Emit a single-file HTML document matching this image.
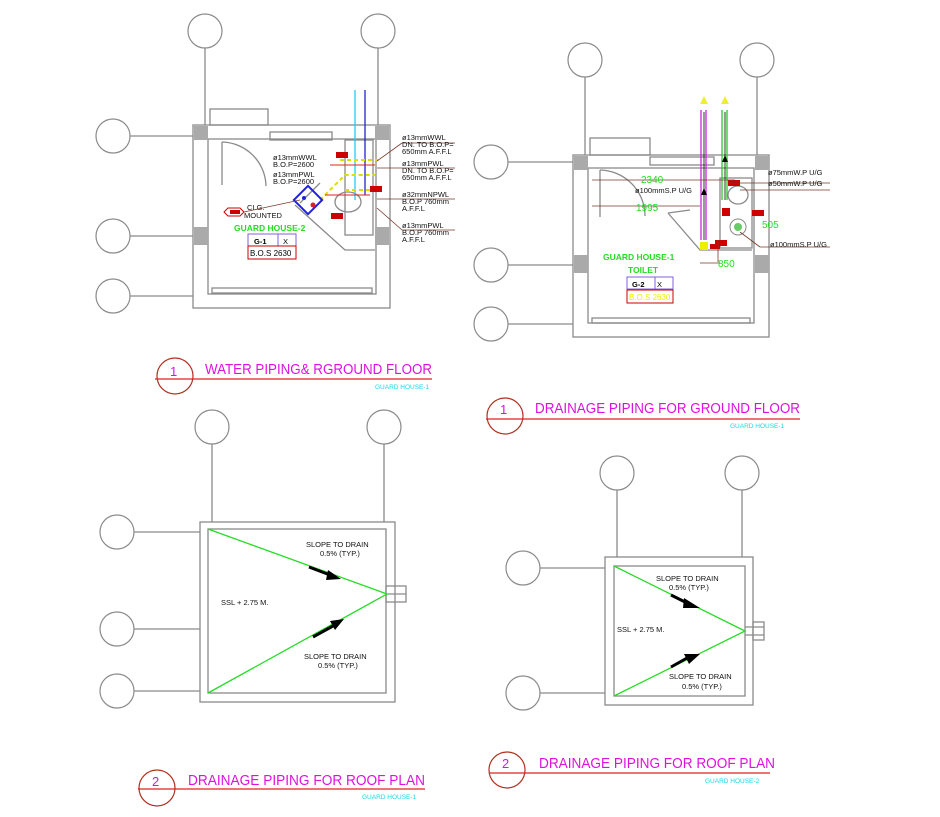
<!DOCTYPE html>
<html><head><meta charset="utf-8"><style>
html,body{margin:0;padding:0;background:#fff;}
svg{display:block;}
text{font-family:"Liberation Sans",sans-serif;}
.g{stroke:#8a8a8a;fill:none;stroke-width:1.3;}
.c{stroke:#8a8a8a;fill:none;stroke-width:1.2;}
.t{font-size:7.5px;fill:#111;}
.ttl{font-size:15px;fill:#e010e0;}
.sub{font-size:6.5px;fill:#18d8e8;}
.gr{stroke:#22dd22;stroke-width:1.3;fill:none;}
</style></head><body>
<svg width="940" height="817" viewBox="0 0 940 817" xmlns="http://www.w3.org/2000/svg">
<!-- ============ TOP LEFT ============ -->
<g>
<circle class="c" cx="205" cy="31" r="17"/><circle class="c" cx="378" cy="31" r="17"/>
<circle class="c" cx="113" cy="136" r="17"/><circle class="c" cx="113" cy="236" r="17"/><circle class="c" cx="113" cy="296" r="17"/>
<line class="g" x1="205" y1="48" x2="205" y2="125"/><line class="g" x1="378" y1="48" x2="378" y2="125"/>
<line class="g" x1="130" y1="136" x2="193" y2="136"/><line class="g" x1="130" y1="236" x2="193" y2="236"/><line class="g" x1="130" y1="296" x2="193" y2="296"/>
<rect class="g" x="193" y="125" width="197" height="183"/>
<rect class="g" x="208" y="139" width="168" height="155"/>
<rect class="g" x="212" y="288" width="160" height="5"/>
<rect x="194" y="126" width="14" height="14" fill="#aaa"/><rect x="375" y="126" width="14" height="14" fill="#aaa"/>
<rect x="194" y="227" width="14" height="18" fill="#aaa"/><rect x="375" y="227" width="14" height="18" fill="#aaa"/>
<rect class="g" x="210" y="109" width="58" height="16"/>
<path class="g" d="M222 142 L222 185 M222 142 A45 45 0 0 1 266 186"/>
<rect class="g" x="270" y="132" width="62" height="8"/>
<path class="g" d="M300 203 L320 183 M295 205 L345 250 L375 250"/>
<rect class="g" x="345" y="140" width="28" height="95"/>
<ellipse class="g" cx="348" cy="202" rx="13" ry="10"/>
<line x1="355" y1="90" x2="355" y2="200" stroke="#22ccee" stroke-width="1.3"/>
<line x1="365" y1="90" x2="365" y2="195" stroke="#2222cc" stroke-width="1.3"/>
<path d="M320 200 L345 175 L375 175 M340 160 L378 160 M345 190 L380 190" stroke="#dddd00" stroke-width="2" fill="none" stroke-dasharray="4 3"/>
<path d="M330 165 L375 165 M325 195 L370 195" stroke="#e02020" stroke-width="1" fill="none"/>
<rect x="298" y="190" width="20" height="20" fill="none" stroke="#2020e0" stroke-width="2" transform="rotate(45 308 200)"/>
<circle cx="304" cy="198" r="2" fill="#2020e0"/><circle cx="313" cy="205" r="2.5" fill="#e02020"/>
<rect x="336" y="152" width="12" height="6" fill="#c00"/><rect x="370" y="186" width="12" height="6" fill="#c00"/><rect x="331" y="213" width="12" height="6" fill="#c00"/>
<polygon points="228,208 240,208 244,212 240,216 228,216 224,212" fill="#fff" stroke="#c00"/>
<rect x="230" y="210" width="10" height="4" fill="#c00"/>
<text class="t" x="247" y="210">CLG.</text><text class="t" x="244" y="218">MOUNTED</text>
<line x1="244" y1="212" x2="300" y2="200" stroke="#7a3a2a" stroke-width="0.8"/>
<text class="t" x="273" y="160">ø13mmWWL</text><text class="t" x="273" y="167">B.O.P=2600</text>
<text class="t" x="273" y="177">ø13mmPWL</text><text class="t" x="273" y="184">B.O.P=2600</text>
<text x="234" y="231" font-size="8.5" font-weight="bold" fill="#22dd22">GUARD HOUSE-2</text>
<rect x="248" y="234" width="48" height="12" fill="none" stroke="#8060e0"/><line x1="278" y1="234" x2="278" y2="246" stroke="#8060e0"/>
<text x="254" y="244" font-size="7.5" font-weight="bold">G-1</text><text x="283" y="244" font-size="7.5">X</text>
<rect x="248" y="246" width="48" height="13" fill="none" stroke="#c00"/>
<text x="250" y="256" font-size="8">B.O.S 2630</text>
<g stroke="#7a3a2a" stroke-width="0.8">
<line x1="377" y1="161" x2="402" y2="143"/><line x1="402" y1="143" x2="455" y2="143"/>
<line x1="377" y1="168" x2="455" y2="168"/>
<line x1="377" y1="199" x2="455" y2="199"/>
<line x1="377" y1="208" x2="402" y2="230"/><line x1="402" y1="230" x2="455" y2="230"/>
</g>
<text class="t" x="402" y="140">ø13mmWWL</text><text class="t" x="402" y="147">DN. TO B.O.P=</text><text class="t" x="402" y="154">650mm A.F.F.L</text>
<text class="t" x="402" y="166">ø13mmPWL</text><text class="t" x="402" y="173">DN. TO B.O.P=</text><text class="t" x="402" y="180">650mm A.F.F.L</text>
<text class="t" x="402" y="197">ø32mmNPWL</text><text class="t" x="402" y="204">B.O.P 760mm</text><text class="t" x="402" y="211">A.F.F.L</text>
<text class="t" x="402" y="228">ø13mmPWL</text><text class="t" x="402" y="235">B.O.P 760mm</text><text class="t" x="402" y="242">A.F.F.L</text>
</g>
<!-- ============ TOP RIGHT ============ -->
<g>
<circle class="c" cx="585" cy="60" r="17"/><circle class="c" cx="757" cy="60" r="17"/>
<circle class="c" cx="491" cy="162" r="17"/><circle class="c" cx="491" cy="265" r="17"/><circle class="c" cx="491" cy="324" r="17"/>
<line class="g" x1="585" y1="77" x2="585" y2="155"/><line class="g" x1="757" y1="77" x2="757" y2="155"/>
<line class="g" x1="508" y1="162" x2="573" y2="162"/><line class="g" x1="508" y1="265" x2="573" y2="265"/><line class="g" x1="508" y1="324" x2="573" y2="324"/>
<rect class="g" x="573" y="155" width="196" height="182"/>
<rect class="g" x="588" y="168" width="166" height="155"/>
<rect class="g" x="592" y="318" width="158" height="5"/>
<rect x="574" y="156" width="14" height="14" fill="#aaa"/><rect x="755" y="156" width="14" height="14" fill="#aaa"/>
<rect x="574" y="255" width="14" height="18" fill="#aaa"/><rect x="755" y="255" width="14" height="18" fill="#aaa"/>
<rect class="g" x="590" y="138" width="60" height="17"/>
<path class="g" d="M600 170 L600 217 M600 170 A46 46 0 0 1 645 216"/>
<rect class="g" x="650" y="157" width="64" height="8"/>
<path class="g" d="M668 213 L700 250 L752 250 M668 213 L690 210"/>
<rect class="g" x="720" y="178" width="32" height="70"/>
<line x1="701" y1="110" x2="701" y2="240" stroke="#d020e0" stroke-width="1.3"/><line x1="706" y1="110" x2="706" y2="240" stroke="#d020e0" stroke-width="1.3"/>
<line x1="722" y1="110" x2="722" y2="200" stroke="#22cc22" stroke-width="1.3"/><line x1="727" y1="110" x2="727" y2="200" stroke="#22cc22" stroke-width="1.3"/>
<line x1="704" y1="112" x2="704" y2="240" stroke="#000" stroke-width="0.8"/><line x1="725" y1="112" x2="725" y2="200" stroke="#000" stroke-width="0.8"/>
<polygon points="700,104 704,96 708,104" fill="#eeee30"/><polygon points="721,104 725,96 729,104" fill="#eeee30"/>
<polygon points="701,195 704,188 707,195" fill="#000"/><polygon points="722,162 725,155 728,162" fill="#000"/>
<ellipse class="g" cx="738" cy="195" rx="10" ry="9"/><circle cx="738" cy="227" r="8" fill="none" stroke="#888"/><circle cx="738" cy="227" r="4" fill="#6c6"/>
<rect x="728" y="180" width="12" height="6" fill="#c00"/><rect x="722" y="208" width="8" height="8" fill="#c00"/><rect x="752" y="210" width="12" height="6" fill="#c00"/>
<rect x="715" y="240" width="12" height="6" fill="#c00"/><rect x="700" y="242" width="8" height="8" fill="#ee0"/><rect x="710" y="244" width="10" height="5" fill="#c00"/>
<g stroke="#7a3a2a" stroke-width="0.8">
<line x1="592" y1="180" x2="735" y2="180"/><line x1="592" y1="206" x2="700" y2="206"/>
<line x1="700" y1="263" x2="720" y2="263"/><line x1="718" y1="240" x2="718" y2="262"/>
<line x1="730" y1="183" x2="830" y2="183"/><line x1="740" y1="190" x2="830" y2="190"/>
<line x1="740" y1="232" x2="760" y2="247"/><line x1="760" y1="247" x2="830" y2="247"/>
</g>
<text x="641" y="183" font-size="10" fill="#22dd22">2340</text>
<text x="636" y="211" font-size="10" fill="#22dd22">1995</text>
<text x="762" y="228" font-size="10" fill="#22dd22">505</text>
<text x="718" y="267" font-size="10" fill="#22dd22">850</text>
<text class="t" x="635" y="193">ø100mmS.P U/G</text>
<text class="t" x="768" y="175">ø75mmW.P U/G</text><text class="t" x="768" y="186">ø50mmW.P U/G</text>
<text class="t" x="770" y="247">ø100mmS.P U/G</text>
<text x="603" y="260" font-size="8.5" font-weight="bold" fill="#22dd22">GUARD HOUSE-1</text>
<text x="628" y="273" font-size="8.5" font-weight="bold" fill="#22dd22">TOILET</text>
<rect x="627" y="277" width="46" height="12" fill="none" stroke="#8060e0"/><line x1="655" y1="277" x2="655" y2="289" stroke="#8060e0"/>
<text x="632" y="287" font-size="7.5" font-weight="bold">G-2</text><text x="657" y="287" font-size="7.5">X</text>
<rect x="627" y="290" width="46" height="13" fill="none" stroke="#c00"/>
<text x="629" y="300" font-size="8" fill="#ee0">B.O.S 2630</text>
</g>
<!-- ============ BOTTOM LEFT ============ -->
<g>
<circle class="c" cx="212" cy="427" r="17"/><circle class="c" cx="384" cy="427" r="17"/>
<circle class="c" cx="117" cy="532" r="17"/><circle class="c" cx="117" cy="629" r="17"/><circle class="c" cx="117" cy="691" r="17"/>
<line class="g" x1="212" y1="444" x2="212" y2="522"/><line class="g" x1="384" y1="444" x2="384" y2="522"/>
<line class="g" x1="134" y1="532" x2="200" y2="532"/><line class="g" x1="134" y1="629" x2="200" y2="629"/><line class="g" x1="134" y1="691" x2="200" y2="691"/>
<rect class="g" x="200" y="522" width="195" height="180"/>
<rect class="g" x="208" y="529" width="178" height="164"/>
<rect class="g" x="386" y="586" width="20" height="16"/><line class="g" x1="386" y1="594" x2="406" y2="594"/>
<path class="gr" d="M208 529 L387 594 L208 693"/>
<path d="M309 567 L330 575" stroke="#000" stroke-width="3"/><polygon points="328,570 341,579 326,580" fill="#000"/>
<path d="M313 637 L333 626" stroke="#000" stroke-width="3"/><polygon points="330,621 344,619 335,630" fill="#000"/>
<text class="t" x="306" y="547">SLOPE TO DRAIN</text><text class="t" x="320" y="556">0.5% (TYP.)</text>
<text class="t" x="221" y="605">SSL + 2.75 M.</text>
<text class="t" x="304" y="659">SLOPE TO DRAIN</text><text class="t" x="318" y="668">0.5% (TYP.)</text>
</g>
<!-- ============ BOTTOM RIGHT ============ -->
<g>
<circle class="c" cx="617" cy="473" r="17"/><circle class="c" cx="742" cy="473" r="17"/>
<circle class="c" cx="523" cy="568" r="17"/><circle class="c" cx="523" cy="693" r="17"/>
<line class="g" x1="617" y1="490" x2="617" y2="557"/><line class="g" x1="742" y1="490" x2="742" y2="557"/>
<line class="g" x1="540" y1="568" x2="605" y2="568"/><line class="g" x1="540" y1="693" x2="605" y2="693"/>
<rect class="g" x="605" y="557" width="148" height="148"/>
<rect class="g" x="614" y="566" width="131" height="130"/>
<rect class="g" x="753" y="622" width="11" height="18"/><line class="g" x1="745" y1="627" x2="764" y2="627"/><line class="g" x1="745" y1="635" x2="764" y2="635"/>
<path class="gr" d="M614 566 L745 631 L614 696"/>
<path d="M671 595 L687 603" stroke="#000" stroke-width="3"/><polygon points="684,598 700,608 683,608" fill="#000"/>
<path d="M671 667 L687 658" stroke="#000" stroke-width="3"/><polygon points="684,654 700,654 689,664" fill="#000"/>
<text class="t" x="656" y="581">SLOPE TO DRAIN</text><text class="t" x="669" y="590">0.5% (TYP.)</text>
<text class="t" x="617" y="632">SSL + 2.75 M.</text>
<text class="t" x="669" y="679">SLOPE TO DRAIN</text><text class="t" x="682" y="689">0.5% (TYP.)</text>
</g>
<!-- ============ TITLES ============ -->
<g>
<circle cx="175" cy="376" r="18" fill="none" stroke="#b03020" stroke-width="1.2"/>
<line x1="155" y1="379" x2="432" y2="379" stroke="#e02020" stroke-width="1.2"/>
<text x="170" y="376" font-size="13" fill="#e010e0">1</text>
<text class="ttl" x="205" y="374" textLength="227" lengthAdjust="spacingAndGlyphs">WATER PIPING&amp; RGROUND FLOOR</text>
<text class="sub" x="375" y="389">GUARD HOUSE-1</text>

<circle cx="505" cy="416" r="18" fill="none" stroke="#b03020" stroke-width="1.2"/>
<line x1="486" y1="419" x2="800" y2="419" stroke="#e02020" stroke-width="1.2"/>
<text x="500" y="414" font-size="13" fill="#e010e0">1</text>
<text class="ttl" x="535" y="413" textLength="265" lengthAdjust="spacingAndGlyphs">DRAINAGE PIPING FOR GROUND FLOOR</text>
<text class="sub" x="730" y="428">GUARD HOUSE-1</text>

<circle cx="157" cy="788" r="18" fill="none" stroke="#b03020" stroke-width="1.2"/>
<line x1="138" y1="789" x2="425" y2="789" stroke="#e02020" stroke-width="1.2"/>
<text x="152" y="786" font-size="13" fill="#e010e0">2</text>
<text class="ttl" x="188" y="785" textLength="237" lengthAdjust="spacingAndGlyphs">DRAINAGE PIPING FOR ROOF PLAN</text>
<text class="sub" x="362" y="799">GUARD HOUSE-1</text>

<circle cx="507" cy="770" r="18" fill="none" stroke="#b03020" stroke-width="1.2"/>
<line x1="489" y1="773" x2="770" y2="773" stroke="#e02020" stroke-width="1.2"/>
<text x="502" y="768" font-size="13" fill="#e010e0">2</text>
<text class="ttl" x="539" y="768" textLength="236" lengthAdjust="spacingAndGlyphs">DRAINAGE PIPING FOR ROOF PLAN</text>
<text class="sub" x="705" y="783">GUARD HOUSE-2</text>
</g>
</svg>
</body></html>
